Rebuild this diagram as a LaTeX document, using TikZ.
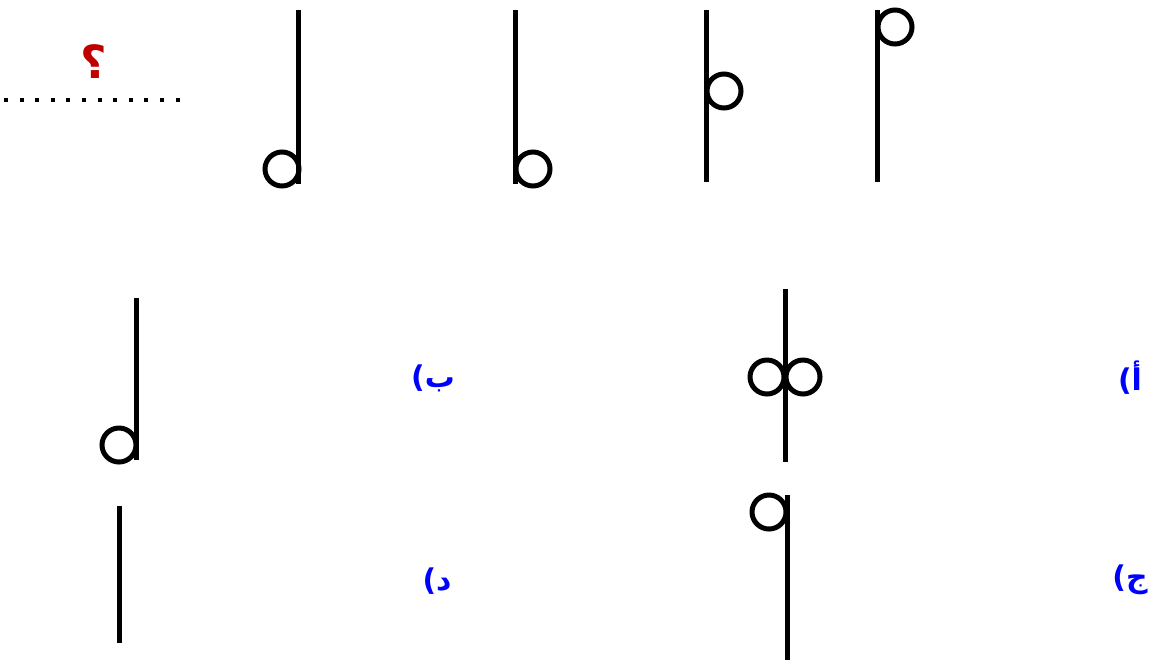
\documentclass[tikz,border=0pt]{standalone}
\usepackage{fontspec}
\usepackage{xcolor}
\usepackage{tikz}
\TeXXeTstate=1
\newfontfamily\arabicfont[Script=Arabic]{DejaVu Sans}
\begin{document}
\begin{tikzpicture}[
    x=0.02cm, y=-0.02cm,
    stem/.style={line width=0.1cm},
    ring/.style={line width=0.1cm},
    choice/.style={text=blue, font=\arabicfont\fontsize{17}{20}\selectfont\bfseries, inner sep=0pt}
]
\useasboundingbox (0,0) rectangle (1155,664);
% question row
\node[text={rgb,255:red,192;green,0;blue,0}, font=\arabicfont\fontsize{26}{30}\selectfont\bfseries, inner sep=0pt] (qmark) at (94,62) {\beginR ؟\endR};
\draw[line width=0.08cm, dash pattern=on 0.08cm off 0.232cm] (4,100) -- (182,100);
% sequence
\draw[stem] (298,10) -- (298,184);
\draw[ring] (282,169) circle (17);
\draw[stem] (515,10) -- (515,184);
\draw[ring] (533,169) circle (17);
\draw[stem] (706,10) -- (706,182);
\draw[ring] (724,91) circle (17);
\draw[stem] (877,10) -- (877,182);
\draw[ring] (895,27) circle (17);
% answers
\draw[stem] (136,298) -- (136,460);
\draw[ring] (119,445) circle (17);
\node[choice] (optb) at (433,378) {\beginR ب)\endR};
\draw[stem] (785,289) -- (785,462);
\draw[ring] (767,377) circle (17);
\draw[ring] (803,377) circle (17);
\node[choice] (opta) at (1130,378) {\beginR أ)\endR};
\draw[stem] (119,506) -- (119,643);
\node[choice] (optd) at (437,581) {\beginR د)\endR};
\draw[stem] (787,495) -- (787,660);
\draw[ring] (769,512) circle (17);
\node[choice] (optc) at (1130,580) {\beginR ج)\endR};
\end{tikzpicture}
\end{document}
